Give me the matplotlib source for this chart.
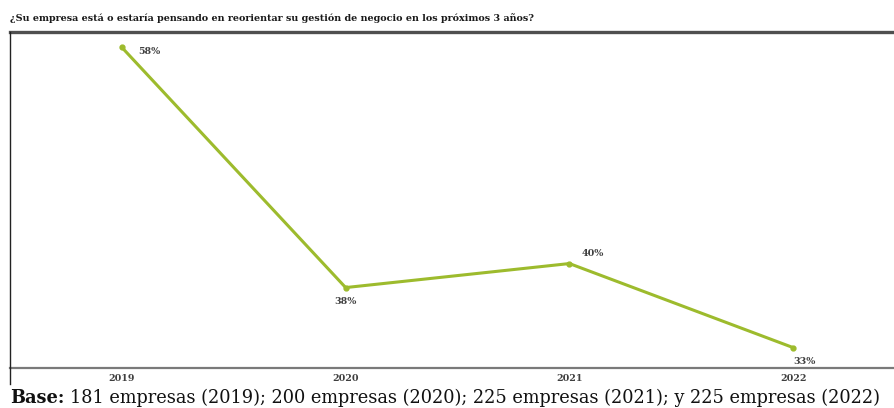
import matplotlib
matplotlib.use('Agg')
import matplotlib.pyplot as plt
from matplotlib.lines import Line2D

years = ['2019', '2020', '2021', '2022']
pct = [58, 38, 40, 33]
# label offsets in points (dx, dy) relative to each marker
offsets = [(20, -3), (0, -10), (17, 7), (8, -10)]

title = '¿Su empresa está o estaría pensando en reorientar su gestión de negocio en los próximos 3 años?'
base_lead = 'Base:'
base_note = '181 empresas (2019); 200 empresas (2020); 225 empresas (2021); y 225 empresas (2022)'

GREEN = '#9dbb2d'
TXT = '#3f3f3f'
SERIF = ['DejaVu Serif']

fig = plt.figure(figsize=(8.95, 4.08), dpi=100)
ax = fig.add_axes([0.0112, 0.098, 1.0, 0.824])

x = list(range(len(years)))
ax.plot(x, pct, color=GREEN, lw=2.2, marker='o', ms=3.5, solid_joinstyle='miter')
for xi, v, (dx, dy) in zip(x, pct, offsets):
    ax.annotate(f'{v}%', (xi, v), xytext=(dx, dy), textcoords='offset points',
                ha='center', va='center', fontsize=6.8, fontweight='bold',
                color=TXT, family=SERIF)

ax.set_xlim(-0.5, 3.5)
ax.set_ylim(31.3, 59.3)
ax.set_xticks(x)
ax.set_xticklabels(years, fontsize=6.8, fontweight='bold', color=TXT, family=SERIF)
ax.tick_params(axis='x', length=0, pad=4)
ax.set_yticks([])

ax.spines['top'].set_color('#4f4f4f')
ax.spines['top'].set_linewidth(2.4)
ax.spines['bottom'].set_color('#7a7a7a')
ax.spines['bottom'].set_linewidth(1.6)
ax.spines['left'].set_visible(False)
ax.spines['right'].set_visible(False)

# left frame edge runs past the plot bottom
fig.add_artist(Line2D([0.0112, 0.0112], [0.06, 0.922], color='#222222', lw=1.0,
                      transform=fig.transFigure))

fig.text(0.0112, 0.955, title, fontsize=6.9, fontweight='bold', color='#1a1a1a',
         family=SERIF, va='center', ha='left')
lead = fig.text(0.0112, 0.024, base_lead, fontsize=12.8, fontweight='bold',
                color='#111111', family=SERIF, va='center', ha='left')
ax.annotate(base_note, xy=(1, 0.5), xycoords=lead, xytext=(4, 0),
            textcoords='offset points', fontsize=12.8, color='#111111',
            family=SERIF, va='center', ha='left', annotation_clip=False)

fig.savefig('out.png', dpi=100)
